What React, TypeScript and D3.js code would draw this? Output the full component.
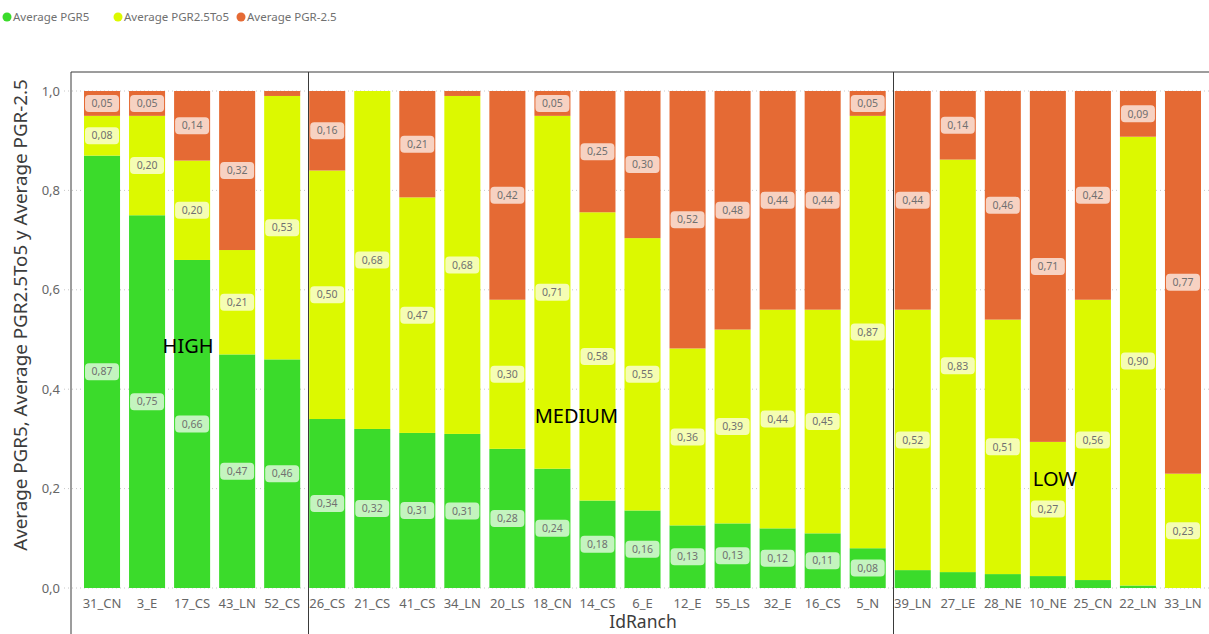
import React from 'react';
import * as d3 from 'd3';

const ranches = [
  '31_CN', '3_E', '17_CS', '43_LN', '52_CS',
  '26_CS', '21_CS', '41_CS', '34_LN', '20_LS', '18_CN', '14_CS', '6_E', '12_E', '55_LS', '32_E', '16_CS', '5_N',
  '39_LN', '27_LE', '28_NE', '10_NE', '25_CN', '22_LN', '33_LN',
];

const pgr5 = [
  0.87, 0.75, 0.66, 0.47, 0.46,
  0.34, 0.32, 0.312, 0.31, 0.28, 0.24, 0.176, 0.156, 0.126, 0.13, 0.12, 0.11, 0.08,
  0.036, 0.032, 0.028, 0.024, 0.016, 0.005, 0,
];

const pgr25To5 = [
  0.08, 0.20, 0.20, 0.21, 0.53,
  0.50, 0.68, 0.474, 0.68, 0.30, 0.71, 0.58, 0.548, 0.356, 0.39, 0.44, 0.45, 0.87,
  0.524, 0.83, 0.512, 0.27, 0.564, 0.903, 0.23,
];

const pgrMinus25 = [
  0.05, 0.05, 0.14, 0.32, 0.01,
  0.16, 0.00, 0.214, 0.01, 0.42, 0.05, 0.246, 0.296, 0.518, 0.48, 0.44, 0.44, 0.05,
  0.44, 0.138, 0.46, 0.706, 0.42, 0.092, 0.77,
];

const seriesNames = ['Average PGR5', 'Average PGR2.5To5', 'Average PGR-2.5'];
const seriesColors = ['#3bdb2b', '#dcf900', '#e56a34'];

const yTicks = [0, 0.2, 0.4, 0.6, 0.8, 1.0];

// group labels and the ranch where each group begins
const groupNames = ['HIGH', 'MEDIUM', 'LOW'];
const groupStarts = ['31_CN', '26_CS', '39_LN'];

const W = 1209;
const H = 634;
const FONT = '"Segoe UI", "Noto Sans", "Open Sans", sans-serif';

const App: React.FC = () => {
  const x = d3.scaleBand<string>()
    .domain(ranches)
    .range([79.5, 1205.5])
    .paddingInner(0.2)
    .paddingOuter(0.1);

  const y = d3.scaleLinear().domain([0, 1]).range([588, 91]).clamp(true);

  const rows = ranches.map((r, i) => ({
    ranch: r,
    s0: pgr5[i],
    s1: pgr25To5[i],
    s2: pgrMinus25[i],
  }));
  const keys = ['s0', 's1', 's2'];
  const stacked = d3.stack<any>().keys(keys)(rows);

  const fmt = (v: number) => d3.format('.2f')(v).replace('.', ',');
  const bw = x.bandwidth();

  // annotation placement: [ranch, dx, y value]
  const annotations: [string, number, number][] = [
    ['17_CS', -4, 0.487],
    ['18_CN', 24, 0.347],
    ['10_NE', 7, 0.22],
  ];

  const frameTop = 72;
  const leftFrame = 71;

  return (
    <svg width={W} height={H} style={{ position: 'absolute', left: 0, top: 0, background: '#fff' }}>
      <rect width={W} height={H} fill="#fff" />

      {/* legend */}
      <g fontFamily={FONT} fontSize={11.5} fill="#707070">
        {seriesNames.map((name, i) => {
          const xs = [7, 118, 241][i];
          return (
            <g key={name} transform={`translate(${xs},17)`}>
              <circle cx={0} cy={0} r={4.5} fill={seriesColors[i]} />
              <text x={6} dy="0.35em">{name}</text>
            </g>
          );
        })}
      </g>

      {/* gridlines */}
      {yTicks.map(t => (
        <line key={t} x1={64} x2={W} y1={y(t)} y2={y(t)}
          stroke="#c8c8c8" strokeDasharray="1,3" strokeWidth={1} />
      ))}

      {/* bars */}
      {stacked.map((layer, si) => (
        <g key={layer.key} fill={seriesColors[si]}>
          {layer.map((d, i) => {
            const h = y(d[0]) - y(d[1]);
            if (h <= 0) return null;
            return <rect key={i} x={x(ranches[i])} y={y(d[1])} width={bw} height={h} />;
          })}
        </g>
      ))}

      {/* data labels */}
      {stacked.map((layer, si) => (
        <g key={'l' + layer.key} fontFamily={FONT} fontSize={10.5}>
          {layer.map((d, i) => {
            const v = d[1] - d[0];
            if (v < 0.045) return null;
            const cx = (x(ranches[i]) as number) + bw / 2;
            const cy = (y(d[0]) + y(d[1])) / 2;
            return (
              <g key={i} transform={`translate(${cx},${cy})`}>
                <rect x={-17} y={-8.5} width={34} height={17} rx={4}
                  fill="#fff" fillOpacity={0.7} />
                <text textAnchor="middle" dy="0.35em" fill="#707070">{fmt(v)}</text>
              </g>
            );
          })}
        </g>
      ))}

      {/* frame lines */}
      <line x1={leftFrame} x2={W} y1={frameTop} y2={frameTop} stroke="#3a3a3a" strokeWidth={1} />
      <line x1={leftFrame} x2={leftFrame} y1={frameTop} y2={H} stroke="#3a3a3a" strokeWidth={1} />
      {groupStarts.slice(1).map(r => {
        const sx = Math.round((x(r) as number) - 1.5) + 0.5;
        return <line key={r} x1={sx} x2={sx} y1={frameTop} y2={H} stroke="#3a3a3a" strokeWidth={1} />;
      })}

      {/* y axis */}
      <g fontFamily={FONT} fontSize={13} fill="#666">
        {yTicks.map(t => (
          <text key={t} x={60} y={y(t)} dy="0.35em" textAnchor="end">
            {d3.format('.1f')(t).replace('.', ',')}
          </text>
        ))}
      </g>
      <text transform={`translate(20,315) rotate(-90)`} textAnchor="middle" dy="0.35em"
        fontFamily={FONT} fontSize={18.8} fill="#3c3c3c">
        Average PGR5, Average PGR2.5To5 y Average PGR-2.5
      </text>

      {/* x axis */}
      <g fontFamily={FONT} fontSize={13} fill="#666">
        {ranches.map(r => (
          <text key={r} x={(x(r) as number) + bw / 2} y={603} dy="0.35em" textAnchor="middle">{r}</text>
        ))}
      </g>
      <text x={643} y={622} dy="0.35em" textAnchor="middle" fontFamily={FONT} fontSize={17.5} fill="#3c3c3c">
        IdRanch
      </text>

      {/* group annotations */}
      {annotations.map(([r, dx, v], i) => (
        <text key={groupNames[i]} x={(x(r) as number) + bw / 2 + dx} y={y(v)} dy="0.35em"
          textAnchor="middle" fontFamily={FONT} fontSize={20} fill="#000">
          {groupNames[i]}
        </text>
      ))}
    </svg>
  );
};

export default App;
